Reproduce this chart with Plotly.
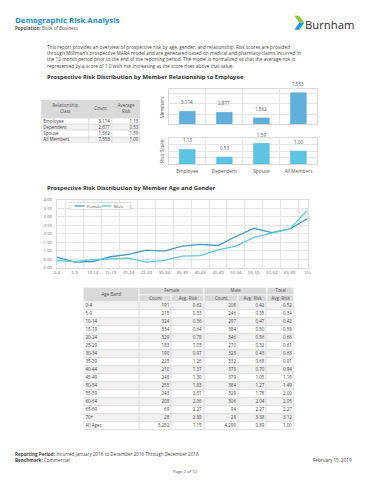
import plotly.graph_objects as go

W, H = 370, 480
FONT = "Open Sans"

# ---------------- data ----------------
rel_classes = ["Employee", "Dependent", "Spouse", "All Members"]
rel_counts = [3114, 2877, 1562, 7553]
rel_risk = [1.13, 0.53, 1.59, 1.00]
rel_headers = ["Relationship<br>Class", "Count", "Average<br>Risk"]

age_bands = ["0-4", "5-9", "10-14", "15-19", "20-24", "25-29", "30-34", "35-39",
             "40-44", "45-49", "50-54", "55-59", "60-64", "65-69", "70+"]
female_count = [191, 215, 324, 334, 329, 183, 190, 225, 210, 248, 255, 243, 208, 69, 28]
female_risk = [0.62, 0.33, 0.36, 0.64, 0.78, 1.03, 0.97, 1.26, 1.37, 1.30, 1.83, 2.31, 2.06, 2.27, 2.88]
male_count = [208, 246, 297, 384, 346, 270, 323, 332, 373, 379, 384, 329, 306, 94, 28]
male_risk = [0.42, 0.35, 0.47, 0.50, 0.56, 0.32, 0.43, 0.68, 0.70, 1.05, 1.27, 1.78, 2.04, 2.27, 3.38]
total_risk = [0.52, 0.34, 0.42, 0.58, 0.66, 0.61, 0.63, 0.91, 0.94, 1.15, 1.49, 2.00, 2.05, 2.27, 3.12]
all_label = "All Ages"
all_female_count = 3252
all_female_risk = 1.15
all_male_count = 4299
all_male_risk = 0.89
all_total_risk = 1.00

age_header = "Age Band"
age_group_headers = ["Female", "Male", "Total"]
age_sub_headers = ["Count", "Avg. Risk", "Count", "Avg. Risk", "Avg. Risk"]

series_names = ["Female", "Male"]

intro_lines = [
    "This report provides an overview of prospective risk by age, gender, and relationship. Risk scores are provided",
    "through Milliman's prospective MARA model and are generated based on medical and pharmacy claims incurred in",
    "the 12 month period prior to the end of the reporting period. The model is normalized so that the average risk is",
    "represented by a score of 1.0 with risk increasing as the score rises above that value.",
]

# ---------------- helpers ----------------
def px(x):
    return x / W


def py(y):
    return 1 - y / H


fig = go.Figure()

PALETTE = ["#ffffff", "#f1f1f1", "#d9d9d9", "#dcdcdc"]
CSCALE = [[i / 3, c] for i, c in enumerate(PALETTE)]


def fills(xa, ya, xe, ye, z, gap=1):
    fig.add_trace(go.Heatmap(x=xe, y=ye, z=z, zmin=0, zmax=3, colorscale=CSCALE,
                             showscale=False, xgap=gap, ygap=gap, hoverinfo="skip",
                             xaxis=xa, yaxis=ya))


def texts(xa, ya, xs, ys, labels, pos, color="#444", size=4.5):
    fig.add_trace(go.Scatter(x=xs, y=ys, text=labels, mode="text", textposition=pos,
                             textfont=dict(family=FONT, size=size, color=color),
                             hoverinfo="skip", cliponaxis=False, xaxis=xa, yaxis=ya))


# ---------------- bar charts ----------------
fig.add_trace(go.Bar(x=rel_classes, y=rel_counts, width=0.42,
                     marker=dict(color="#62afdc", line=dict(color="#4a9fd1", width=0.6)),
                     hoverinfo="skip", xaxis="x", yaxis="y"))
fig.add_trace(go.Bar(x=rel_classes, y=rel_risk, width=0.42,
                     marker=dict(color="#5ec4e4", line=dict(color="#47b3d8", width=0.6)),
                     hoverinfo="skip", xaxis="x2", yaxis="y2"))

annotations = []
for c, v in zip(rel_classes, rel_counts):
    annotations.append(dict(x=c, y=v, xref="x", yref="y", text=f"{v:,}", showarrow=False,
                            yanchor="bottom", yshift=4,
                            font=dict(family=FONT, size=4.6, color="#555")))
for c, v in zip(rel_classes, rel_risk):
    annotations.append(dict(x=c, y=v, xref="x2", yref="y2", text=f"{v:.2f}", showarrow=False,
                            yanchor="bottom", yshift=4,
                            font=dict(family=FONT, size=4.6, color="#555")))

# ---------------- line chart ----------------
fig.add_trace(go.Scatter(x=age_bands, y=female_risk, mode="lines", name=series_names[0],
                         line=dict(color="#3f9bc9", width=1.3), hoverinfo="skip",
                         xaxis="x3", yaxis="y3"))
fig.add_trace(go.Scatter(x=age_bands, y=male_risk, mode="lines", name=series_names[1],
                         line=dict(color="#5ec8e4", width=1.3), hoverinfo="skip",
                         xaxis="x3", yaxis="y3"))

# ---------------- relationship table ----------------
REL_EDGES = [0, 49, 72, 101]
REL_HH = 19
REL_RH = 6.25
n_rel = len(rel_classes)
rel_total_h = REL_HH + n_rel * REL_RH
rel_y_edges = [REL_HH + i * REL_RH for i in range(n_rel + 1)]
rel_centers = [REL_HH + (i + 0.5) * REL_RH for i in range(n_rel)]

fills("x4", "y4", [REL_EDGES[0], REL_EDGES[-1]], [0, rel_total_h], [[3]], gap=0)
fills("x4", "y4", REL_EDGES, [0, REL_HH], [[2, 2, 2]])
fills("x4", "y4", REL_EDGES, rel_y_edges, [[i % 2] * 3 for i in range(n_rel)])
texts("x4", "y4", [(REL_EDGES[i] + REL_EDGES[i + 1]) / 2 for i in range(3)], [REL_HH / 2] * 3,
      rel_headers, "middle center", color="#555")
texts("x4", "y4", [REL_EDGES[0] + 2] * n_rel, rel_centers, rel_classes, "middle right")
texts("x4", "y4", [REL_EDGES[2] - 2] * n_rel, rel_centers, [f"{v:,}" for v in rel_counts], "middle left")
texts("x4", "y4", [REL_EDGES[3] - 2] * n_rel, rel_centers, [f"{v:.2f}" for v in rel_risk], "middle left")

# ---------------- age table ----------------
AGE_EDGES = [0, 57, 90, 123, 158, 187, 215]
H1, H2 = 8, 7
RH = 8.1
rows_label = age_bands + [all_label]
rows_fc = female_count + [all_female_count]
rows_fr = female_risk + [all_female_risk]
rows_mc = male_count + [all_male_count]
rows_mr = male_risk + [all_male_risk]
rows_tr = total_risk + [all_total_risk]
n_age = len(rows_label)
top_body = H1 + H2
age_total_h = top_body + n_age * RH
age_y_edges = [top_body + i * RH for i in range(n_age + 1)]
age_centers = [top_body + (i + 0.5) * RH for i in range(n_age)]

fills("x5", "y5", [AGE_EDGES[0], AGE_EDGES[-1]], [0, top_body, age_total_h], [[0], [3]], gap=0)
fills("x5", "y5", [AGE_EDGES[0], AGE_EDGES[1]], [0, top_body], [[2]])
group_edges = [AGE_EDGES[1], AGE_EDGES[3], AGE_EDGES[5], AGE_EDGES[6]]
fills("x5", "y5", group_edges, [0, H1], [[2, 2, 2]])
fills("x5", "y5", AGE_EDGES[1:], [H1, top_body], [[2] * 5])
fills("x5", "y5", AGE_EDGES, age_y_edges, [[(i + 1) % 2] * 6 for i in range(n_age)])

texts("x5", "y5", [(AGE_EDGES[0] + AGE_EDGES[1]) / 2], [top_body / 2], [age_header],
      "middle center", color="#555")
texts("x5", "y5", [(group_edges[i] + group_edges[i + 1]) / 2 for i in range(3)], [H1 / 2] * 3,
      age_group_headers, "middle center", color="#555")
texts("x5", "y5", [(AGE_EDGES[i] + AGE_EDGES[i + 1]) / 2 for i in range(1, 6)], [H1 + H2 / 2] * 5,
      age_sub_headers, "middle center", color="#555")
texts("x5", "y5", [AGE_EDGES[0] + 2] * n_age, age_centers, rows_label, "middle right")
for col, vals, fmt in [(2, rows_fc, "{:,}"), (3, rows_fr, "{:.2f}"), (4, rows_mc, "{:,}"),
                       (5, rows_mr, "{:.2f}"), (6, rows_tr, "{:.2f}")]:
    texts("x5", "y5", [AGE_EDGES[col] - 2.5] * n_age, age_centers,
          [fmt.format(v) for v in vals], "middle left")

# ---------------- page text ----------------
def ann(x, y, text, size, color="#444", xanchor="left", yanchor="middle", **kw):
    annotations.append(dict(x=px(x), y=py(y), xref="paper", yref="paper", text=text,
                            showarrow=False, xanchor=xanchor, yanchor=yanchor,
                            font=dict(family=FONT, size=size, color=color), **kw))


ann(10, 17.5, "<b>Demographic Risk Analysis</b>", 7.8, color="#1b8fd1")
ann(10, 25, "<b>Population:</b> Book of Business", 4.5, color="#555")
ann(360, 21.5, "Burnham", 11.3, color="#2b2b2b", xanchor="right")
ann(43, 39.5, "<br>".join(intro_lines), 4.75, color="#444", yanchor="top", align="left")
ann(43, 75, "<b>Prospective Risk Distribution by Member Relationship to Employee</b>", 5.9, color="#333")
ann(43, 187.3, "<b>Prospective Risk Distribution by Member Age and Gender</b>", 5.9, color="#333")
ann(162, 105, "Members", 5, color="#555", xanchor="center", textangle=-90)
ann(162, 150, "Risk Score", 5, color="#555", xanchor="center", textangle=-90)
ann(10, 456.7, "<b>Reporting Period:</b> Incurred January 2016 to December 2016 Through December 2018", 4.6, color="#444")
ann(10, 462.5, "<b>Benchmark:</b> Commercial", 4.6, color="#444")
ann(358, 462.5, "February 15, 2019", 4.6, color="#444", xanchor="right")
ann(185, 474, "Page 2 of 12", 4.2, color="#444", xanchor="center")

# manual legend
ann(84, 205.5, series_names[0], 4.3, color="#555")
ann(111, 205.5, series_names[1], 4.3, color="#555")

shapes = [
    dict(type="rect", xref="paper", yref="paper", x0=px(68), x1=px(130), y0=py(209), y1=py(202),
         line=dict(color="#d0d0d0", width=0.7), fillcolor="white"),
    dict(type="line", xref="paper", yref="paper", x0=px(73), x1=px(83), y0=py(205.5), y1=py(205.5),
         line=dict(color="#3f9bc9", width=1.3)),
    dict(type="line", xref="paper", yref="paper", x0=px(100), x1=px(110), y0=py(205.5), y1=py(205.5),
         line=dict(color="#5ec8e4", width=1.3)),
]


def path(points):
    return "M " + " L ".join(f"{px(x)},{py(y)}" for x, y in points) + " Z"


shapes.append(dict(type="path", xref="paper", yref="paper", line=dict(width=0),
                   fillcolor="#8dc63f", path=path([(297, 13), (302, 13), (307, 20), (302, 20)])))
shapes.append(dict(type="path", xref="paper", yref="paper", line=dict(width=0),
                   fillcolor="#1b9bd7", path=path([(302, 20), (307, 20), (302, 27), (297, 27)])))

grid = "#e4e4e4"
frame = "#dadada"
tick_font = dict(family=FONT, size=4.8, color="#555")
small_font = dict(family=FONT, size=4.3, color="#666")

hidden = dict(visible=False, fixedrange=True)

fig.update_layout(
    width=W, height=H, margin=dict(l=0, r=0, t=0, b=0),
    paper_bgcolor="white", plot_bgcolor="white", showlegend=False,
    annotations=annotations, shapes=shapes,
    xaxis=dict(domain=[px(169), px(320)], anchor="y", type="category",
               categoryorder="array", categoryarray=rel_classes,
               showticklabels=False, ticks="", tickson="boundaries", showgrid=True,
               gridcolor=grid, gridwidth=0.7, showline=True, mirror=True,
               linecolor=frame, linewidth=0.7, fixedrange=True),
    yaxis=dict(domain=[py(123), py(87)], anchor="x", range=[0, 8500], dtick=2500,
               showticklabels=False, ticks="", gridcolor=grid, gridwidth=0.7,
               zeroline=False, showline=True, mirror=True, linecolor=frame,
               linewidth=0.7, fixedrange=True),
    xaxis2=dict(domain=[px(169), px(320)], anchor="y2", type="category",
                categoryorder="array", categoryarray=rel_classes,
                tickfont=tick_font, ticks="", tickson="boundaries", showgrid=True,
                gridcolor=grid, gridwidth=0.7, showline=True, mirror=True,
                linecolor=frame, linewidth=0.7, ticklabelstandoff=2, tickangle=0,
                fixedrange=True),
    yaxis2=dict(domain=[py(163), py(137)], anchor="x2", range=[0, 2], dtick=0.5,
                showticklabels=False, ticks="", gridcolor=grid, gridwidth=0.7,
                zeroline=False, showline=True, mirror=True, linecolor=frame,
                linewidth=0.7, fixedrange=True),
    xaxis3=dict(domain=[px(54.8), px(310.5)], anchor="y3", type="category",
                categoryorder="array", categoryarray=age_bands,
                tickfont=small_font, ticks="", tickson="boundaries", showgrid=True,
                gridcolor=grid, gridwidth=0.7, showline=True, mirror=True,
                linecolor=frame, linewidth=0.7, tickangle=0, fixedrange=True),
    yaxis3=dict(domain=[py(268), py(199)], anchor="x3", range=[0, 4], dtick=0.5,
                tickformat=".2f", tickfont=small_font, ticks="", gridcolor=grid,
                gridwidth=0.7, zeroline=False, showline=True, mirror=True,
                linecolor=frame, linewidth=0.7, ticklabelstandoff=3, fixedrange=True),
    xaxis4=dict(domain=[px(39), px(140)], anchor="y4", range=[0, REL_EDGES[-1]], **hidden),
    yaxis4=dict(domain=[py(98 + rel_total_h), py(98)], anchor="x4", range=[rel_total_h, 0], **hidden),
    xaxis5=dict(domain=[px(82), px(82 + AGE_EDGES[-1])], anchor="y5", range=[0, AGE_EDGES[-1]], **hidden),
    yaxis5=dict(domain=[py(288 + age_total_h), py(288)], anchor="x5", range=[age_total_h, 0], **hidden),
)

# the page body has a default 8px margin; remove it so the figure fills the window
fig.write_html("out.html", config={"displayModeBar": False},
               post_script="document.body.style.margin='0';")
